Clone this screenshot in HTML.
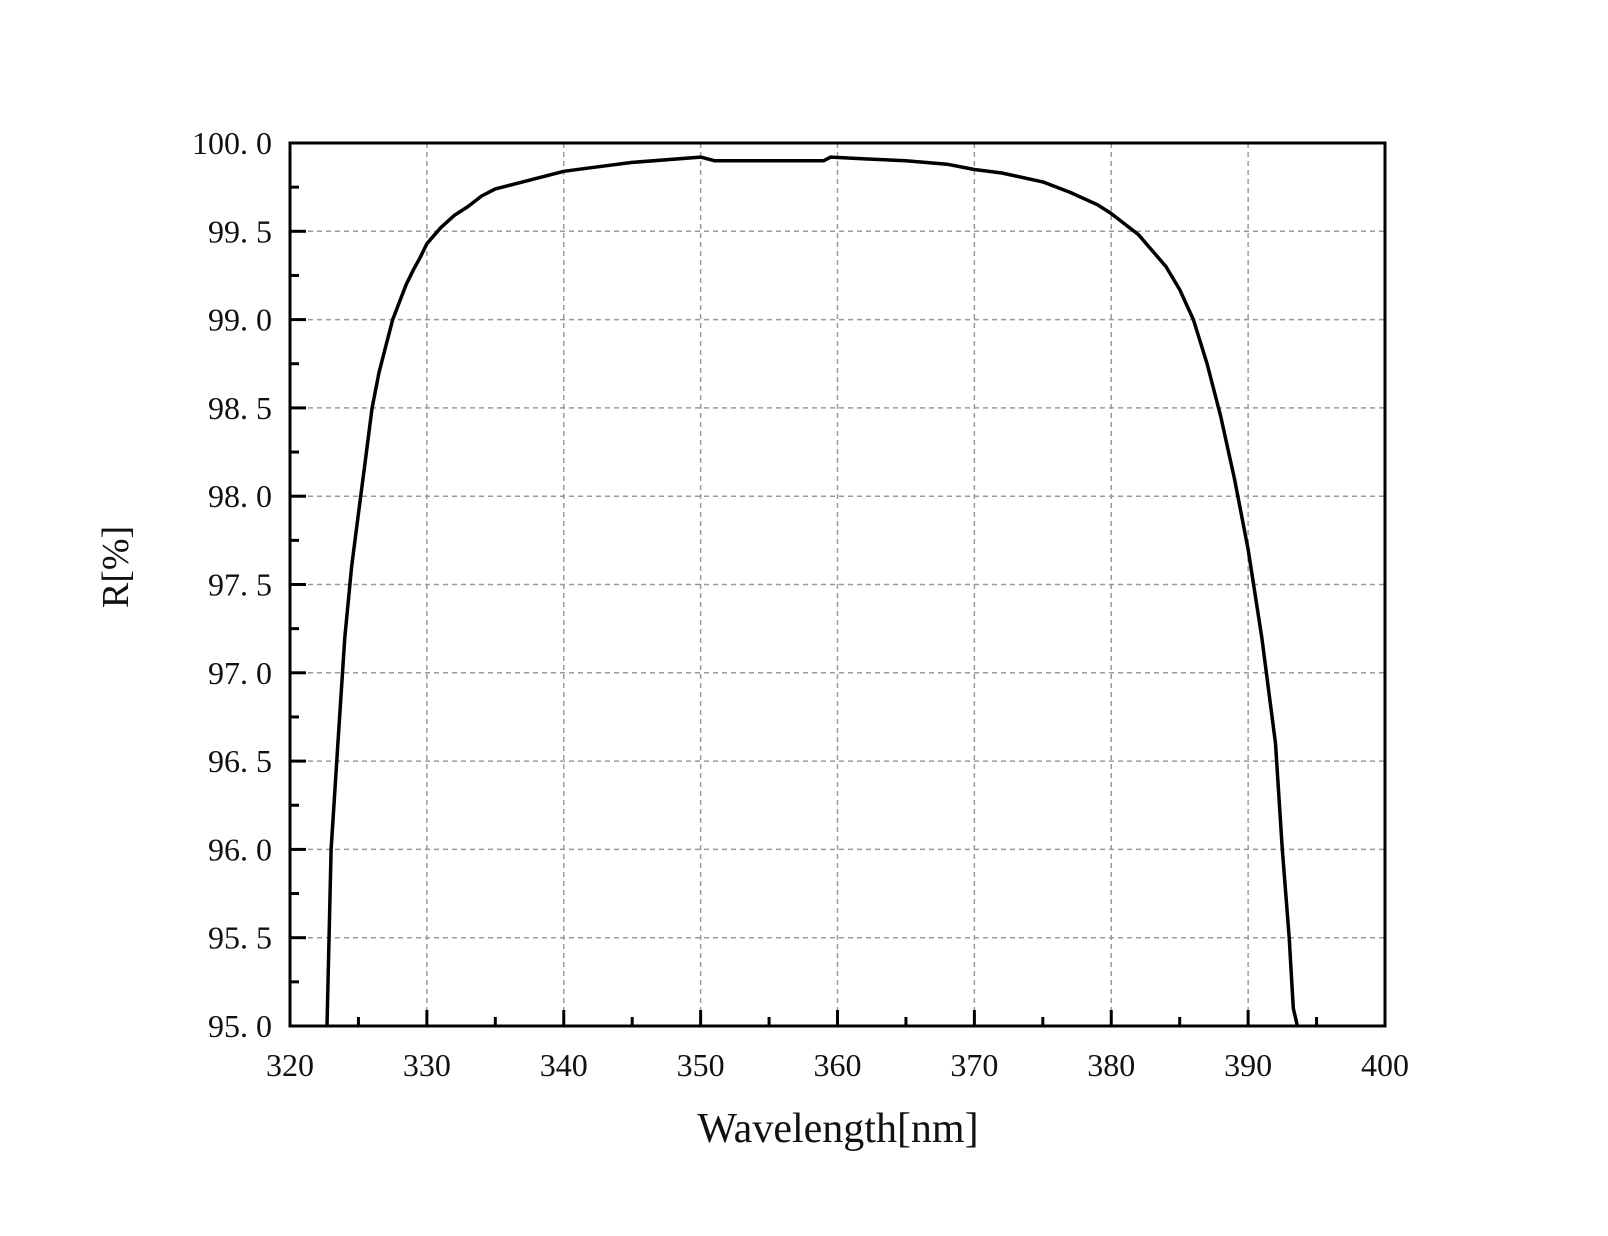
<!DOCTYPE html>
<html><head><meta charset="utf-8"><style>
body{margin:0;background:#fff}
svg text{font-family:"Liberation Serif","Noto Serif CJK SC",serif;fill:#111}
</style></head><body>
<svg id="chart" width="1608" height="1231" xmlns="http://www.w3.org/2000/svg"></svg>
<script>
const xTicks=[320,330,340,350,360,370,380,390,400];
const yTicks=[95,95.5,96,96.5,97,97.5,98,98.5,99,99.5,100];
const yTickLabels=["95. 0","95. 5","96. 0","96. 5","97. 0","97. 5","98. 0","98. 5","99. 0","99. 5","100. 0"];
const wavelengths=[322.7,323,323.5,324,324.5,325,325.5,326,326.5,327,327.5,328,328.5,329,329.5,330,331,332,333,334,335,337,340,342,345,350,351,355,359,359.5,362,365,368,370,372,375,377,379,380,382,384,385,386,387,388,389,390,391,392,392.5,393,393.3,393.6];
const reflectance=[95,96,96.6,97.2,97.6,97.9,98.2,98.5,98.7,98.85,99.0,99.1,99.2,99.28,99.35,99.43,99.52,99.59,99.64,99.7,99.74,99.78,99.84,99.86,99.89,99.92,99.9,99.9,99.9,99.92,99.91,99.9,99.88,99.85,99.83,99.78,99.72,99.65,99.6,99.48,99.3,99.17,99.0,98.75,98.45,98.1,97.7,97.2,96.6,96.0,95.5,95.1,95];
const L=290,R=1385,T=143,B=1026;
const xs=v=>L+(v-320)/80*(R-L), ys=v=>B-(v-95)/5*(B-T);
const svg=document.getElementById('chart'),NS='http://www.w3.org/2000/svg';
function mk(t,a,p){const e=document.createElementNS(NS,t);for(const k in a)e.setAttribute(k,a[k]);(p||svg).appendChild(e);return e;}
const g=mk('g',{});


xTicks.slice(1,-1).forEach(v=>mk('line',{x1:xs(v),x2:xs(v),y1:T,y2:B,stroke:'#999','stroke-width':1.5,'stroke-dasharray':'5,4'},g));
yTicks.slice(1,-1).forEach(v=>mk('line',{x1:L,x2:R,y1:ys(v),y2:ys(v),stroke:'#999','stroke-width':1.5,'stroke-dasharray':'5,4'},g));
const ax=mk('g',{});


for(let v=320;v<=400;v+=5){const M=v%10==0;mk('line',{x1:xs(v),x2:xs(v),y1:B,y2:B-(M?16:9),stroke:'#000','stroke-width':3},ax);}
for(let v=95;v<=100;v+=0.25){const M=Math.abs(v*2-Math.round(v*2))<1e-6;mk('line',{x1:L,x2:L+(M?16:9),y1:ys(v),y2:ys(v),stroke:'#000','stroke-width':3},ax);}
xTicks.forEach(v=>{const t=mk('text',{x:xs(v),y:B+50,'font-size':32,'text-anchor':'middle'},ax);t.textContent=v;});
yTicks.forEach((v,i)=>{const t=mk('text',{x:L-18,y:ys(v)+11,'font-size':32,'text-anchor':'end'},ax);t.textContent=yTickLabels[i];});
const d=wavelengths.map((w,i)=>(i?'L':'M')+xs(w).toFixed(1)+' '+ys(reflectance[i]).toFixed(1)).join(' ');
const p=mk('path',{d:d,fill:'none',stroke:'#000','stroke-width':3.5,'stroke-linejoin':'round'});


mk('rect',{x:L,y:T,width:R-L,height:B-T,fill:'none',stroke:'#000','stroke-width':3},ax);
const xt=mk('text',{x:838,y:1142,'font-size':42,'text-anchor':'middle'});
xt.textContent='Wavelength[nm]';


const yt=mk('text',{x:0,y:0,'font-size':38,'text-anchor':'middle',transform:'translate(128,567) rotate(-90)'});
yt.textContent='R[%]';


</script>
</body></html>
